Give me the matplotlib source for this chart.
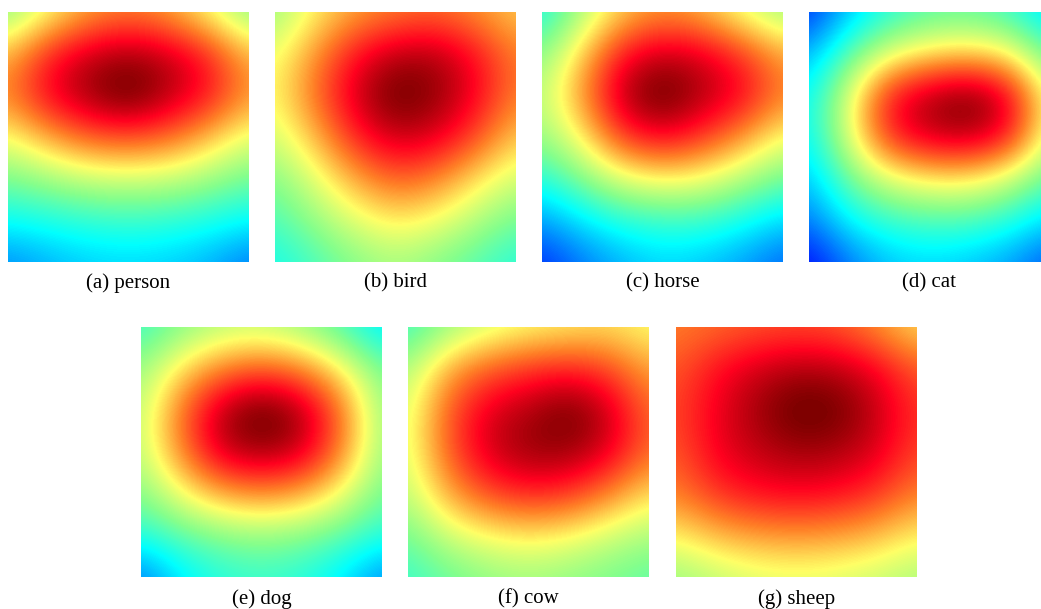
import numpy as np
import matplotlib
matplotlib.use("Agg")
import matplotlib.pyplot as plt
from matplotlib.colors import LinearSegmentedColormap

# Panel captions
labels = ["(a) person", "(b) bird", "(c) horse", "(d) cat", "(e) dog", "(f) cow", "(g) sheep"]

# Heat values sampled on a 7x7 grid (rows top->bottom, cols left->right), 0..1 on jet-like scale
person = [
    [0.50, 0.62, 0.72, 0.76, 0.72, 0.62, 0.50],
    [0.70, 0.86, 0.94, 0.97, 0.94, 0.86, 0.70],
    [0.76, 0.90, 0.98, 1.04, 0.96, 0.88, 0.74],
    [0.62, 0.72, 0.80, 0.82, 0.79, 0.70, 0.60],
    [0.49, 0.53, 0.57, 0.58, 0.57, 0.53, 0.48],
    [0.37, 0.39, 0.41, 0.42, 0.41, 0.39, 0.36],
    [0.24, 0.28, 0.31, 0.32, 0.31, 0.28, 0.22],
]
bird = [
    [0.52, 0.64, 0.72, 0.76, 0.78, 0.74, 0.68],
    [0.61, 0.74, 0.88, 0.95, 0.96, 0.88, 0.76],
    [0.63, 0.78, 0.93, 1.03, 0.99, 0.90, 0.76],
    [0.58, 0.70, 0.86, 0.94, 0.92, 0.82, 0.68],
    [0.50, 0.60, 0.72, 0.80, 0.76, 0.66, 0.58],
    [0.44, 0.52, 0.60, 0.65, 0.62, 0.55, 0.48],
    [0.38, 0.44, 0.50, 0.54, 0.50, 0.45, 0.40],
]
horse = [
    [0.38, 0.54, 0.68, 0.74, 0.70, 0.60, 0.52],
    [0.50, 0.68, 0.88, 0.94, 0.92, 0.84, 0.72],
    [0.56, 0.74, 0.96, 1.04, 0.96, 0.90, 0.76],
    [0.52, 0.64, 0.84, 0.90, 0.84, 0.74, 0.62],
    [0.40, 0.50, 0.60, 0.64, 0.62, 0.55, 0.48],
    [0.26, 0.34, 0.40, 0.42, 0.42, 0.38, 0.32],
    [0.14, 0.22, 0.28, 0.32, 0.30, 0.26, 0.20],
]
cat = [
    [0.14, 0.30, 0.40, 0.45, 0.46, 0.42, 0.32],
    [0.28, 0.46, 0.60, 0.66, 0.68, 0.64, 0.46],
    [0.36, 0.60, 0.88, 0.97, 1.02, 0.92, 0.60],
    [0.36, 0.60, 0.86, 0.94, 0.96, 0.88, 0.58],
    [0.30, 0.48, 0.60, 0.65, 0.65, 0.58, 0.46],
    [0.22, 0.36, 0.42, 0.44, 0.44, 0.40, 0.32],
    [0.10, 0.22, 0.30, 0.32, 0.30, 0.26, 0.18],
]
dog = [
    [0.42, 0.50, 0.55, 0.56, 0.52, 0.44, 0.34],
    [0.52, 0.66, 0.76, 0.80, 0.76, 0.64, 0.48],
    [0.56, 0.78, 0.96, 1.04, 0.97, 0.78, 0.52],
    [0.56, 0.76, 0.94, 0.98, 0.94, 0.76, 0.52],
    [0.50, 0.62, 0.72, 0.75, 0.72, 0.62, 0.48],
    [0.40, 0.46, 0.50, 0.52, 0.50, 0.46, 0.40],
    [0.22, 0.34, 0.40, 0.42, 0.40, 0.34, 0.24],
]
cow = [
    [0.42, 0.52, 0.58, 0.62, 0.64, 0.66, 0.62],
    [0.54, 0.72, 0.80, 0.84, 0.86, 0.82, 0.72],
    [0.59, 0.80, 0.92, 0.96, 1.02, 0.94, 0.78],
    [0.59, 0.80, 0.93, 0.98, 0.98, 0.92, 0.78],
    [0.56, 0.72, 0.82, 0.86, 0.84, 0.76, 0.66],
    [0.48, 0.58, 0.63, 0.65, 0.63, 0.58, 0.54],
    [0.42, 0.47, 0.51, 0.53, 0.51, 0.49, 0.46],
]
sheep = [
    [0.76, 0.78, 0.80, 0.81, 0.80, 0.74, 0.66],
    [0.80, 0.88, 0.93, 0.96, 0.95, 0.90, 0.80],
    [0.82, 0.90, 0.97, 1.03, 1.02, 0.94, 0.84],
    [0.80, 0.90, 0.94, 0.97, 0.96, 0.92, 0.82],
    [0.76, 0.84, 0.88, 0.89, 0.88, 0.84, 0.76],
    [0.64, 0.70, 0.73, 0.74, 0.73, 0.70, 0.64],
    [0.52, 0.56, 0.59, 0.60, 0.59, 0.57, 0.54],
]
maps = [person, bird, horse, cat, dog, cow, sheep]

# jet-like colour scale with a pale yellow and slightly crimson red
cmap = LinearSegmentedColormap.from_list("paljet", [
    (0.00, (0.00, 0.00, 0.55)),
    (0.11, (0.00, 0.05, 1.00)),
    (0.36, (0.00, 1.00, 1.00)),
    (0.50, (0.52, 1.00, 0.55)),
    (0.63, (1.00, 1.00, 0.40)),
    (0.76, (1.00, 0.50, 0.15)),
    (0.89, (1.00, 0.00, 0.12)),
    (1.00, (0.50, 0.00, 0.00)),
])

W, H = 1041, 609
fig = plt.figure(figsize=(W / 100, H / 100), dpi=100)

# panel boxes in pixels: (left, top)
boxes = [(8, 12), (275, 12), (542, 12), (809, 12), (141, 327), (408, 327), (676, 327)]
pw, ph = 241, 250
label_y = [283, 283, 283, 283, 599, 599, 599]

for m, (lx, ty), lab, ly in zip(maps, boxes, labels, label_y):
    ax = fig.add_axes([lx / W, 1 - (ty + ph) / H, pw / W, ph / H])
    arr = np.array(m)
    n = arr.shape[0]
    h = 0.5 / (n - 1)
    ax.imshow(arr, cmap=cmap, vmin=0, vmax=1, interpolation="bicubic",
              interpolation_stage="data", extent=(-h, 1 + h, 1 + h, -h),
              origin="upper", aspect="auto")
    ax.set_xlim(0, 1)
    ax.set_ylim(1, 0)
    ax.axis("off")
    fig.text((lx + pw / 2) / W, 1 - ly / H, lab, ha="center", va="center",
             fontsize=15, family="Liberation Serif")

fig.savefig("out.png", dpi=100)
